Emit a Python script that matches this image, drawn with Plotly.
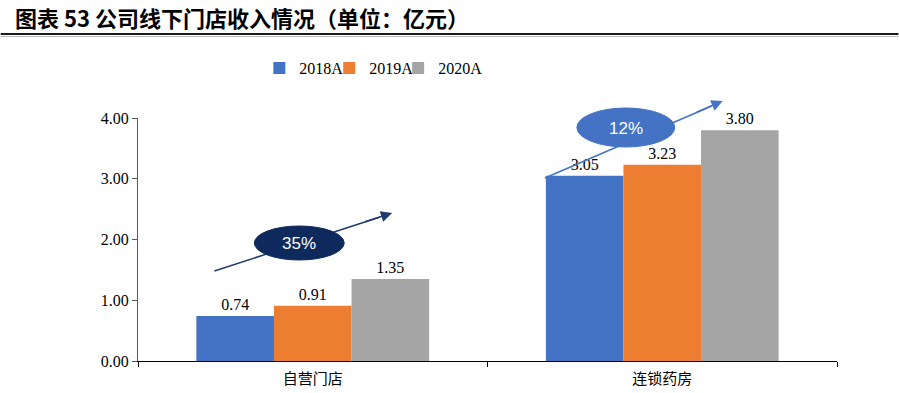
import plotly.graph_objects as go

categories = ["自营门店", "连锁药房"]
series_names = ["2018A", "2019A", "2020A"]
v2018 = [0.74, 3.05]
v2019 = [0.91, 3.23]
v2020 = [1.35, 3.80]
colors = ["#4472C4", "#ED7D31", "#A5A5A5"]
growth_labels = ["35%", "12%"]
y_ticks = [0, 1, 2, 3, 4]

W, H = 899, 393
L, R, T, B = 137.5, 61.5, 118, 32
pw, ph = W - L - R, H - T - B

def px(x):
    return (x - L) / pw

def py(y):
    return (H - B - y) / ph

fig = go.Figure()
legend_ids = ["legend", "legend2", "legend3"]
for name, vals, c, lg in zip(series_names, [v2018, v2019, v2020], colors, legend_ids):
    fig.add_trace(go.Bar(
        x=categories, y=vals, name=name, marker_color=c, marker_line_width=0,
        text=[f"{v:.2f}" for v in vals], textposition="outside",
        textfont=dict(family="Liberation Serif", size=16, color="#000000"),
        cliponaxis=False, legend=lg,
    ))

navy = "#0E2A5C"
blue = "#4472C4"
shapes = [
    # title underline
    dict(type="line", xref="paper", yref="paper", x0=px(0), x1=px(W), y0=py(34), y1=py(34),
         line=dict(color="#1a1a1a", width=2)),
    dict(type="line", xref="paper", yref="paper", x0=px(0), x1=px(W), y0=py(36.5), y1=py(36.5),
         line=dict(color="#b8b8b8", width=1)),
    # trend lines
    dict(type="line", xref="paper", yref="paper", x0=px(214), y0=py(271), x1=px(380), y1=py(217),
         line=dict(color="#1F3A6E", width=1.5)),
    dict(type="line", xref="paper", yref="paper", x0=px(545), y0=py(178), x1=px(712), y1=py(106),
         line=dict(color=blue, width=1.5)),
    # ellipses
    dict(type="circle", xref="paper", yref="paper", x0=px(254), x1=px(344), y0=py(260), y1=py(226),
         fillcolor=navy, line=dict(color=navy, width=1), layer="above"),
    dict(type="circle", xref="paper", yref="paper", x0=px(577), x1=px(675), y0=py(147), y1=py(108),
         fillcolor=blue, line=dict(color=blue, width=1), layer="above"),
]

annotations = [
    dict(xref="paper", yref="paper", x=px(392), y=py(213), ax=-28.5, ay=9.3, showarrow=True,
         arrowhead=2, arrowsize=1.5, arrowwidth=1.5, arrowcolor="#1F3A6E", text=""),
    dict(xref="paper", yref="paper", x=px(723), y=py(101), ax=-27.5, ay=11.9, showarrow=True,
         arrowhead=2, arrowsize=1.5, arrowwidth=1.5, arrowcolor=blue, text=""),
    dict(xref="paper", yref="paper", x=px(299), y=py(243), text=growth_labels[0], showarrow=False,
         xanchor="center", yanchor="middle",
         font=dict(family="Liberation Sans", size=17, color="white")),
    dict(xref="paper", yref="paper", x=px(626), y=py(128), text=growth_labels[1], showarrow=False,
         xanchor="center", yanchor="middle",
         font=dict(family="Liberation Sans", size=17, color="white")),
    dict(xref="paper", yref="paper", x=px(12), y=py(17), xanchor="left", yanchor="middle",
         text="<b>图表 53 公司线下门店收入情况（单位：亿元）</b>", showarrow=False,
         font=dict(family="Noto Sans CJK SC", size=22, color="#000000")),
]

leg_common = dict(orientation="h", yanchor="middle", xanchor="left",
                  font=dict(family="Liberation Serif", size=16, color="#000000"),
                  itemwidth=30, bgcolor="rgba(0,0,0,0)")
fig.update_layout(
    width=W, height=H,
    margin=dict(l=L, r=R, t=T, b=B, pad=0, autoexpand=False),
    paper_bgcolor="white", plot_bgcolor="white",
    barmode="group", bargap=0.334, bargroupgap=0,
    showlegend=True,
    legend=dict(x=px(259), y=py(68), **leg_common),
    legend2=dict(x=px(329), y=py(68), **leg_common),
    legend3=dict(x=px(398), y=py(68), **leg_common),
    xaxis=dict(type="category", showline=True, linecolor="#000000", linewidth=1,
               ticks="outside", tickson="boundaries", ticklen=5, tickcolor="#000000",
               ticklabelstandoff=4, automargin=False,
               tickfont=dict(family="Noto Sans CJK SC", size=15, color="#000000"),
               showgrid=False, zeroline=False),
    yaxis=dict(range=[0, 4], tickvals=y_ticks, tickformat=".2f", showline=True,
               linecolor="#595959", linewidth=1, ticks="outside", ticklen=5, tickcolor="#595959",
               tickfont=dict(family="Liberation Serif", size=16, color="#000000"),
               showgrid=False, zeroline=False, automargin=False),
    shapes=shapes, annotations=annotations,
)

fig.write_html("out.html", config={"displayModeBar": False},
               post_script="document.body.style.margin='0';document.body.style.overflow='hidden';")
